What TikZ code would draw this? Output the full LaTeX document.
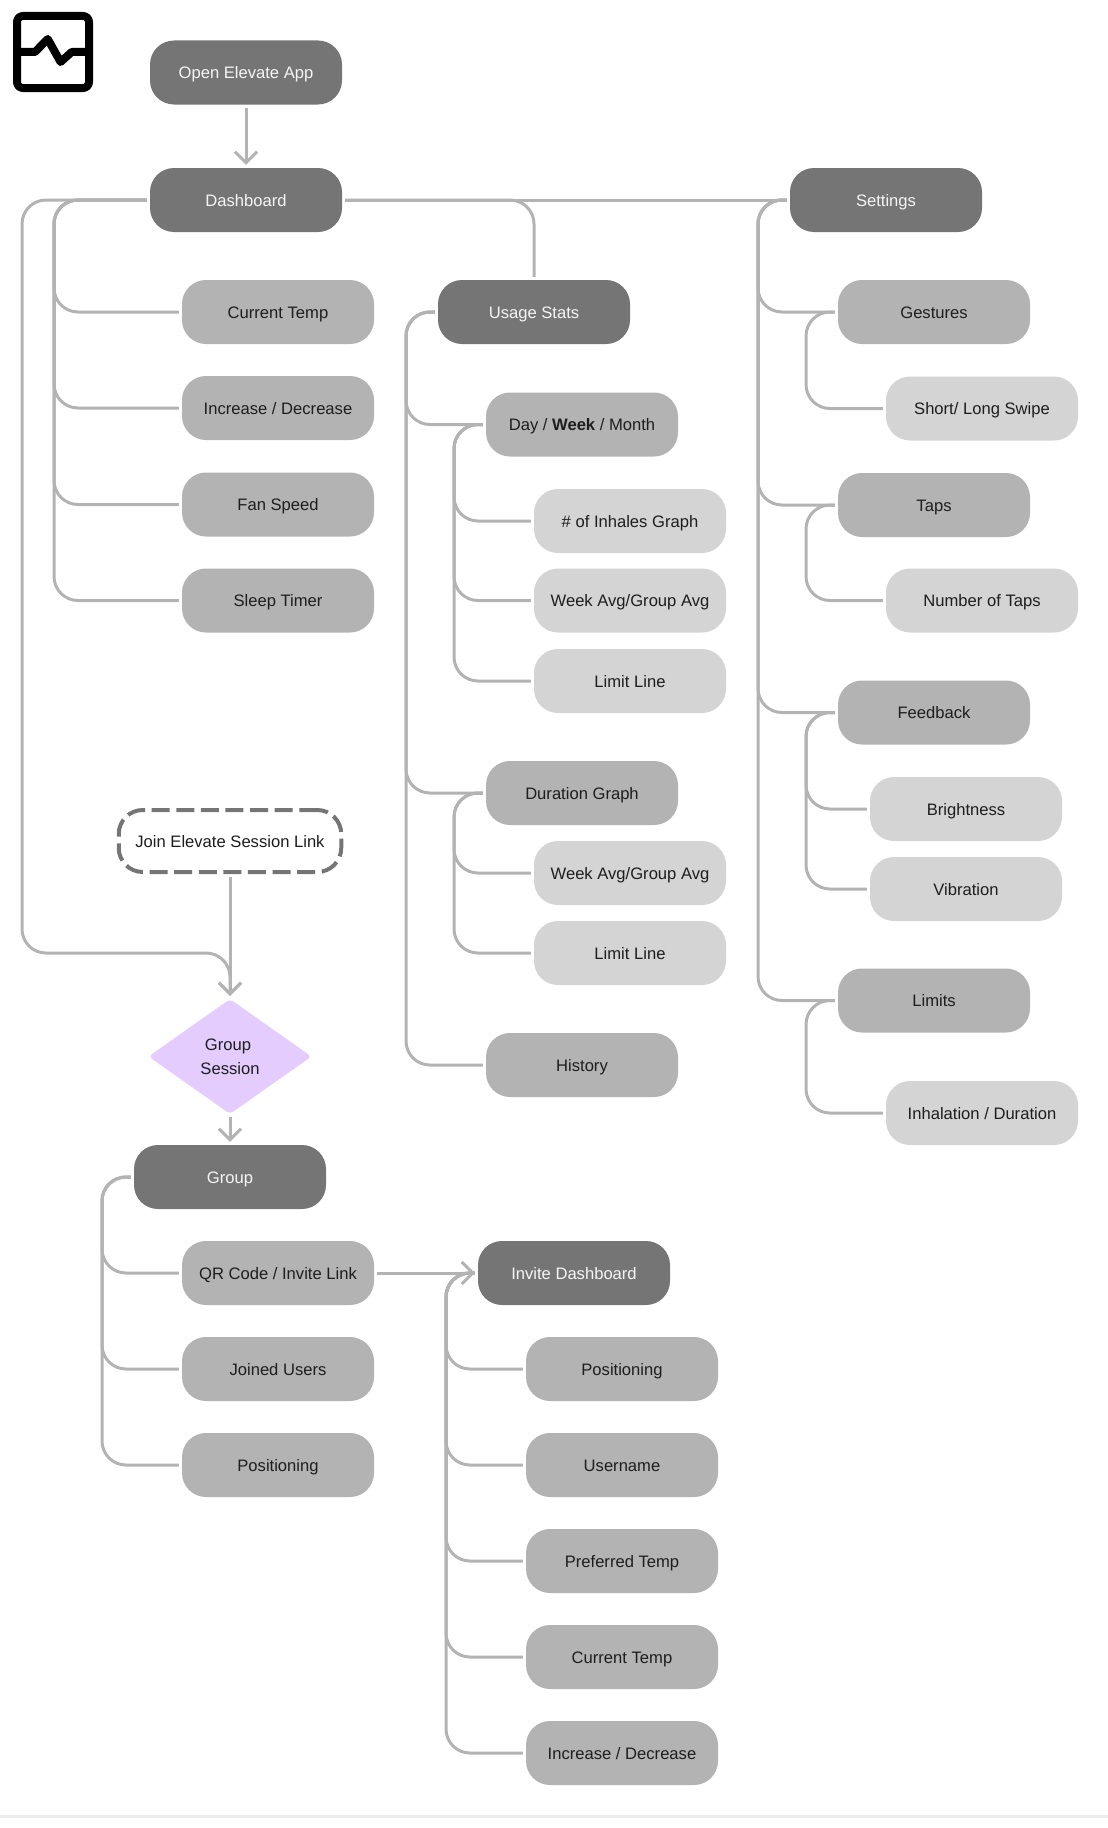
\documentclass[tikz,border=0pt]{standalone}
\usepackage{fontspec}
\setmainfont{Liberation Sans}
\usetikzlibrary{arrows.meta,shapes.geometric}
\definecolor{cdark}{HTML}{757575}
\definecolor{cmid}{HTML}{B3B3B3}
\definecolor{clight}{HTML}{D4D4D4}
\definecolor{cink}{HTML}{1E1E1E}
\definecolor{cwhite}{HTML}{F5F5F5}
\definecolor{cpurple}{HTML}{E4CCFF}
\tikzset{
  boxbase/.style={rectangle,rounded corners=24pt,minimum width=192pt,minimum height=64pt,inner sep=0pt,text height=14pt,text depth=2pt,font=\fontsize{16.6}{24}\selectfont,align=center},
  boxdark/.style={boxbase,fill=cdark,text=cwhite},
  boxmid/.style={boxbase,fill=cmid,text=cink},
  boxlight/.style={boxbase,fill=clight,text=cink},
  boxlink/.style={boxbase,minimum width=222.5pt,minimum height=62pt,draw=cdark,line width=4pt,dash pattern=on 18pt off 6.6pt,text=cink},
  boxdecide/.style={diamond,aspect=1.41,minimum width=163pt,minimum height=115pt,inner sep=0pt,fill=cpurple,text=cink,rounded corners=4pt,font=\fontsize{16.6}{24}\selectfont,align=center},
  conn/.style={draw=cmid,line width=3pt,rounded corners=24pt,shorten <=3pt,shorten >=3pt},
  connarrow/.style={conn,-{Straight Barb[length=11pt,width=22pt,line width=3pt]}},
  iconline/.style={draw=black,line width=8pt,line join=round}
}
\newcommand{\branchline}[3]{\draw[conn] (#1.west) -- (#2 |- #1.west) -- (#2 |- #3.west) -- (#3.west);}
\begin{document}
\begin{tikzpicture}[x=1pt,y=-1pt]
\useasboundingbox (0,0) rectangle (1108,1828);
% icon
\draw[iconline,rounded corners=6pt] (17,16) rectangle (89,88);
\draw[iconline] (17,52) -- (35,52) -- (47.7,39) -- (60.6,62) -- (71.7,52) -- (89,52);
% bottom rule
\draw[draw=black!7,line width=3pt] (0,1816) -- (1108,1816);
% bus coordinates
\coordinate (busOuter) at (22,0);
\coordinate (busDash) at (54,0);
\coordinate (busUsage) at (406,0);
\coordinate (busDay) at (454,0);
\coordinate (busSet) at (758,0);
\coordinate (busSub) at (806,0);
\coordinate (busGroup) at (102,0);
\coordinate (busInvite) at (446,0);
\coordinate (joinY) at (0,953);
% nodes
\node[boxdark] (open) at (246,72.5) {Open Elevate App};
\node[boxdark] (dash) at (246,200) {Dashboard};
\node[boxdark] (settings) at (886,200) {Settings};
\node[boxdark] (usage) at (534,312) {Usage Stats};
\node[boxmid] (curtemp) at (278,312) {Current Temp};
\node[boxmid] (incdec) at (278,408) {Increase / Decrease};
\node[boxmid] (fan) at (278,504.5) {Fan Speed};
\node[boxmid] (sleep) at (278,600.5) {Sleep Timer};
\node[boxmid] (day) at (582,424.5) {Day / \textbf{Week} / Month};
\node[boxlight] (inhales) at (630,521) {\# of Inhales Graph};
\node[boxlight] (weekA) at (630,600.5) {Week Avg/Group Avg};
\node[boxlight] (limitA) at (630,681) {Limit Line};
\node[boxmid] (duration) at (582,793) {Duration Graph};
\node[boxlight] (weekB) at (630,873) {Week Avg/Group Avg};
\node[boxlight] (limitB) at (630,953) {Limit Line};
\node[boxmid] (history) at (582,1065) {History};
\node[boxmid] (gestures) at (934,312) {Gestures};
\node[boxlight] (swipe) at (982,408.5) {Short/ Long Swipe};
\node[boxmid] (taps) at (934,505) {Taps};
\node[boxlight] (numtaps) at (982,600.5) {Number of Taps};
\node[boxmid] (feedback) at (934,712.5) {Feedback};
\node[boxlight] (bright) at (966,809) {Brightness};
\node[boxlight] (vibr) at (966,889) {Vibration};
\node[boxmid] (limits) at (934,1000.5) {Limits};
\node[boxlight] (inhal) at (982,1113) {Inhalation / Duration};
\node[boxlink] (join) at (230,841) {Join Elevate Session Link};
\node[boxdecide] (session) at (230,1056.5) {Group\hspace*{4pt}\\Session};
\node[boxdark] (group) at (230,1177) {Group};
\node[boxmid] (qr) at (278,1273) {QR Code / Invite Link};
\node[boxmid] (joined) at (278,1369) {Joined Users};
\node[boxmid] (posA) at (278,1465) {Positioning};
\node[boxdark] (invite) at (574,1273) {Invite Dashboard};
\node[boxmid] (posB) at (622,1369) {Positioning};
\node[boxmid] (username) at (622,1465) {Username};
\node[boxmid] (pref) at (622,1561) {Preferred Temp};
\node[boxmid] (curB) at (622,1657) {Current Temp};
\node[boxmid] (incB) at (622,1753) {Increase / Decrease};
% connectors
\draw[connarrow] (open) -- (dash);
\draw[connarrow] (dash.west) -- (busOuter |- dash.west) -- (busOuter |- joinY) -- (session.north |- joinY) -- (session.north);
\draw[connarrow] (join) -- (session.north);
\draw[connarrow] (session.south) -- (group.north);
\draw[conn] (dash.east) -- (settings.west);
\draw[conn] (dash.east) -- (usage.north |- dash.east) -- (usage.north);
\branchline{dash}{busDash}{curtemp}
\branchline{dash}{busDash}{incdec}
\branchline{dash}{busDash}{fan}
\branchline{dash}{busDash}{sleep}
\branchline{usage}{busUsage}{day}
\branchline{usage}{busUsage}{duration}
\branchline{usage}{busUsage}{history}
\branchline{day}{busDay}{inhales}
\branchline{day}{busDay}{weekA}
\branchline{day}{busDay}{limitA}
\branchline{duration}{busDay}{weekB}
\branchline{duration}{busDay}{limitB}
\branchline{settings}{busSet}{gestures}
\branchline{settings}{busSet}{taps}
\branchline{settings}{busSet}{feedback}
\branchline{settings}{busSet}{limits}
\branchline{gestures}{busSub}{swipe}
\branchline{taps}{busSub}{numtaps}
\branchline{feedback}{busSub}{bright}
\branchline{feedback}{busSub}{vibr}
\branchline{limits}{busSub}{inhal}
\branchline{group}{busGroup}{qr}
\branchline{group}{busGroup}{joined}
\branchline{group}{busGroup}{posA}
\draw[connarrow] (qr.east) -- (invite.west);
\branchline{invite}{busInvite}{posB}
\branchline{invite}{busInvite}{username}
\branchline{invite}{busInvite}{pref}
\branchline{invite}{busInvite}{curB}
\branchline{invite}{busInvite}{incB}
\end{tikzpicture}
\end{document}
